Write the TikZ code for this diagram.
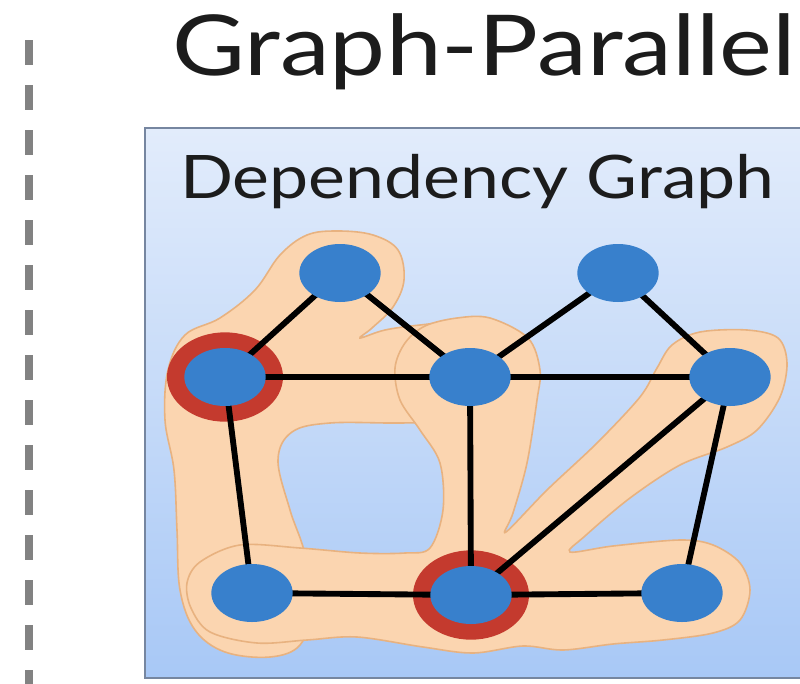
\documentclass[tikz,border=0pt]{standalone}
\usepackage{fontspec}
\setmainfont{Lato}
\usetikzlibrary{shapes.geometric}
\definecolor{boxtop}{RGB}{226,236,251}
\definecolor{boxbot}{RGB}{168,200,246}
\definecolor{boxline}{RGB}{118,134,160}
\definecolor{hullfill}{RGB}{251,213,176}
\definecolor{hullline}{RGB}{232,178,128}
\definecolor{nodeblue}{RGB}{56,128,204}
\definecolor{ringred}{RGB}{196,58,46}
\definecolor{dashgray}{RGB}{130,130,130}
\definecolor{ink}{RGB}{28,28,28}
\pgfdeclarelayer{panel}
\pgfdeclarelayer{back}
\pgfdeclarelayer{links}
\pgfsetlayers{panel,back,links,main}
\begin{document}
\begin{tikzpicture}[x=0.75pt,y=-0.75pt,
  vtx/.style={ellipse,fill=nodeblue,inner sep=0pt,minimum width=61pt,minimum height=43.5pt},
  ring/.style={ellipse,fill=ringred,inner sep=0pt,minimum width=87pt,minimum height=67pt},
  link/.style={line width=4.4pt,draw=black},
  hull/.style={fill=hullfill,draw=hullline,line width=1.2pt},
  label/.style={anchor=base west,inner sep=0pt,text=ink}]
\useasboundingbox (0,0) rectangle (800,683);
\clip (0,0) rectangle (800,683);

% separator on the left
\draw[dashgray,line width=5.4pt,dash pattern=on 18.75pt off 15pt] (29,40) -- (29,690);

% heading
\node[label,font=\fontsize{63}{70}\selectfont,xscale=1.19] (title) at (172,75) {Graph-Parallel};

% panel
\begin{pgfonlayer}{panel}
  \shade[top color=boxtop,bottom color=boxbot] (145,128) rectangle (815,678);
  \draw[boxline,line width=2.2pt] (815,128) -- (145,128) -- (145,678) -- (815,678);
\end{pgfonlayer}
\node[label,font=\fontsize{45}{50}\selectfont,xscale=1.163] (sub) at (180,198) {Dependency Graph};

% vertices
\node[vtx] (A) at (340,273) {};
\node[vtx] (B) at (225,377) {};
\node[vtx] (C) at (470,377) {};
\node[vtx] (D) at (618,273) {};
\node[vtx] (E) at (730,377) {};
\node[vtx] (F) at (252,593) {};
\node[vtx] (G) at (471,595) {};
\node[vtx] (H) at (682,593) {};

\begin{pgfonlayer}{back}
  % neighbourhood of the left cut vertex
  \draw[hull] plot[smooth cycle,tension=0.6] coordinates {
    (307,235) (338,231) (373,235) (398,250) (404,280) (393,307) (372,328)
    (360,338) (385,330) (420,325) (460,322) (500,330) (520,355) (522,385)
    (505,412) (460,421) (400,423) (330,423) (292,432) (278,460) (290,510)
    (305,555) (310,610) (300,645) (270,657) (225,652) (195,630) (180,590)
    (177,530) (174,470) (165,420) (168,370) (185,335) (220,318) (255,290) (280,255)};
  % neighbourhood of the bottom cut vertex
  \draw[hull] plot[smooth cycle,tension=0.55] coordinates {
    (187,583) (200,562) (240,545) (300,548) (360,553) (405,553) (430,548)
    (443,510) (440,463) (420,430) (400,400) (395,368) (405,343) (425,326)
    (457,318) (490,318) (528,338) (540,370) (537,400) (527,463) (513,513)
    (506,532) (547,490) (597,443) (640,397) (657,368) (672,345) (700,332)
    (747,330) (778,338) (787,363) (780,397) (757,430) (727,447) (680,465)
    (630,498) (585,536) (570,552) (613,546) (680,540) (713,545) (740,563)
    (750,590) (740,620) (713,633) (663,640) (613,644) (563,650) (523,646)
    (473,653) (423,647) (357,637) (307,640) (257,643) (210,632) (191,608)};
  % highlighted cut vertices
  \node[ring] (Bring) at (B) {};
  \node[ring] (Gring) at (G) {};
\end{pgfonlayer}

\begin{pgfonlayer}{links}
  \draw[link] (A.center) -- (B.center);
  \draw[link] (A.center) -- (C.center);
  \draw[link] (B.center) -- (C.center);
  \draw[link] (C.center) -- (D.center);
  \draw[link] (C.center) -- (E.center);
  \draw[link] (D.center) -- (E.center);
  \draw[link] (B.center) -- (F.center);
  \draw[link] (C.center) -- (G.center);
  \draw[link] (E.center) -- (G.center);
  \draw[link] (E.center) -- (H.center);
  \draw[link] (F.center) -- (G.center);
  \draw[link] (G.center) -- (H.center);
\end{pgfonlayer}
\end{tikzpicture}
\end{document}
